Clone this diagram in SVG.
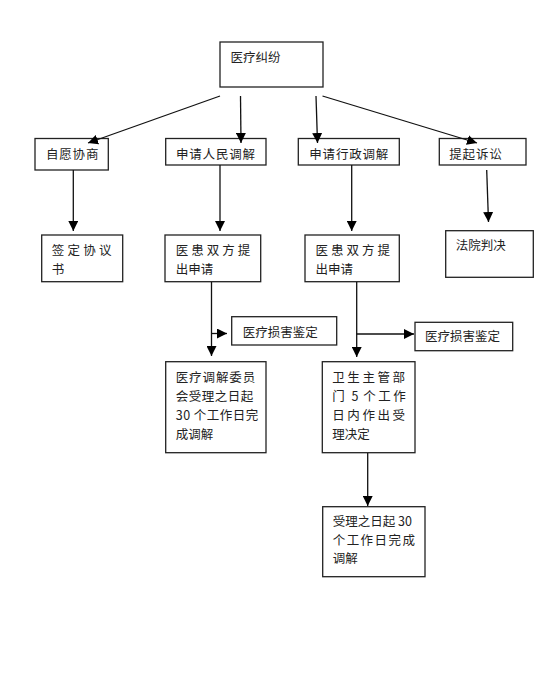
<svg xmlns="http://www.w3.org/2000/svg" width="553" height="698" viewBox="0 0 553 698">
<style>
.b{fill:#fff;stroke:#222;stroke-width:1.3}
.c{fill:none;stroke:#111;stroke-width:1.3}
text{font-family:"Noto Sans CJK SC","Noto Sans",sans-serif;font-size:12.5px;fill:#222}
</style>
<defs>
<marker id="ah" markerUnits="userSpaceOnUse" markerWidth="10" markerHeight="10" refX="10" refY="5" orient="auto">
<path d="M0,0 L10,5 L0,10 z" fill="#000"/>
</marker>
</defs>
<rect width="553" height="698" fill="#fff"/>
<g id="n-top"><rect class="b" x="220" y="42" width="103" height="45"/><text x="230.5" y="62">医疗纠纷</text></g>
<g id="n-ziyuan"><rect class="b" x="35" y="138.5" width="73.3" height="31.5"/><text x="46" y="158.5" letter-spacing="0.8">自愿协商</text></g>
<g id="n-renmin"><rect class="b" x="165.7" y="138.5" width="100.3" height="26.5"/><text x="176" y="158.5" letter-spacing="0.8">申请人民调解</text></g>
<g id="n-xingzheng"><rect class="b" x="298.3" y="138.5" width="101" height="26.5"/><text x="309.3" y="158.5" letter-spacing="0.8">申请行政调解</text></g>
<g id="n-susong"><rect class="b" x="439.3" y="138.5" width="86.7" height="26.5"/><text x="449.3" y="158.5" letter-spacing="0.8">提起诉讼</text></g>
<g id="n-xieyi"><rect class="b" x="41.7" y="235" width="81" height="46.7"/><text x="51.7" y="254.5" letter-spacing="3.3">签定协议</text><text x="51.7" y="273.5">书</text></g>
<g id="n-shenqing1"><rect class="b" x="165" y="235" width="95.7" height="46.7"/><text x="175.7" y="254.5" letter-spacing="3">医患双方提</text><text x="175.7" y="273.5">出申请</text></g>
<g id="n-shenqing2"><rect class="b" x="305" y="235" width="94.3" height="46.7"/><text x="315.5" y="254.5" letter-spacing="3">医患双方提</text><text x="315.5" y="273.5">出申请</text></g>
<g id="n-fayuan"><rect class="b" x="445.7" y="230.7" width="87.6" height="46.6"/><text x="455.7" y="250">法院判决</text></g>
<g id="n-jianding1"><rect class="b" x="231.7" y="316.7" width="105" height="28.3"/><text x="242.7" y="337">医疗损害鉴定</text></g>
<g id="n-jianding2"><rect class="b" x="415" y="322.3" width="97.7" height="28.4"/><text x="425" y="341">医疗损害鉴定</text></g>
<g id="n-weiyuanhui"><rect class="b" x="165.7" y="361.7" width="100.3" height="91"/><text x="175.7" y="382" letter-spacing="0.9">医疗调解委员</text><text x="175.7" y="401" letter-spacing="0.5">会受理之日起</text><text x="175.7" y="419.5" letter-spacing="0.5">30 个工作日完</text><text x="175.7" y="438.5">成调解</text></g>
<g id="n-weisheng"><rect class="b" x="322.3" y="361.7" width="92.7" height="91"/><text x="332.3" y="382" letter-spacing="2.55">卫生主管部</text><text x="332.3 351.5 363.3 378.3 393.3" y="401">门5个工作</text><text x="332.3" y="419.5" letter-spacing="2.55">日内作出受</text><text x="332.3" y="438.5">理决定</text></g>
<g id="n-wancheng"><rect class="b" x="322.7" y="506.7" width="102.3" height="70"/><text x="332.7" y="526">受理之日起 30</text><text x="332.7" y="544.5" letter-spacing="1.45">个工作日完成</text><text x="332.7" y="562.5">调解</text></g>
<g id="connectors">
<line class="c" x1="220" y1="96" x2="88" y2="143" marker-end="url(#ah)"/>
<line class="c" x1="240.5" y1="96" x2="241" y2="143" marker-end="url(#ah)"/>
<line class="c" x1="316" y1="96" x2="317.5" y2="143" marker-end="url(#ah)"/>
<line class="c" x1="322.5" y1="96" x2="477" y2="143" marker-end="url(#ah)"/>
<line class="c" x1="73.3" y1="170" x2="73.3" y2="231" marker-end="url(#ah)"/>
<line class="c" x1="220" y1="165" x2="220" y2="231" marker-end="url(#ah)"/>
<line class="c" x1="351.7" y1="165" x2="351.7" y2="231" marker-end="url(#ah)"/>
<line class="c" x1="486.7" y1="170" x2="488.5" y2="222" marker-end="url(#ah)"/>
<line class="c" x1="211.5" y1="282" x2="211.5" y2="356" marker-end="url(#ah)"/>
<line class="c" x1="211.5" y1="333.5" x2="227" y2="333.5" marker-end="url(#ah)"/>
<line class="c" x1="356.7" y1="282" x2="356.7" y2="357" marker-end="url(#ah)"/>
<line class="c" x1="356.7" y1="334" x2="414" y2="334" marker-end="url(#ah)"/>
<line class="c" x1="367.7" y1="453" x2="367.7" y2="506" marker-end="url(#ah)"/>
</g>
</svg>
